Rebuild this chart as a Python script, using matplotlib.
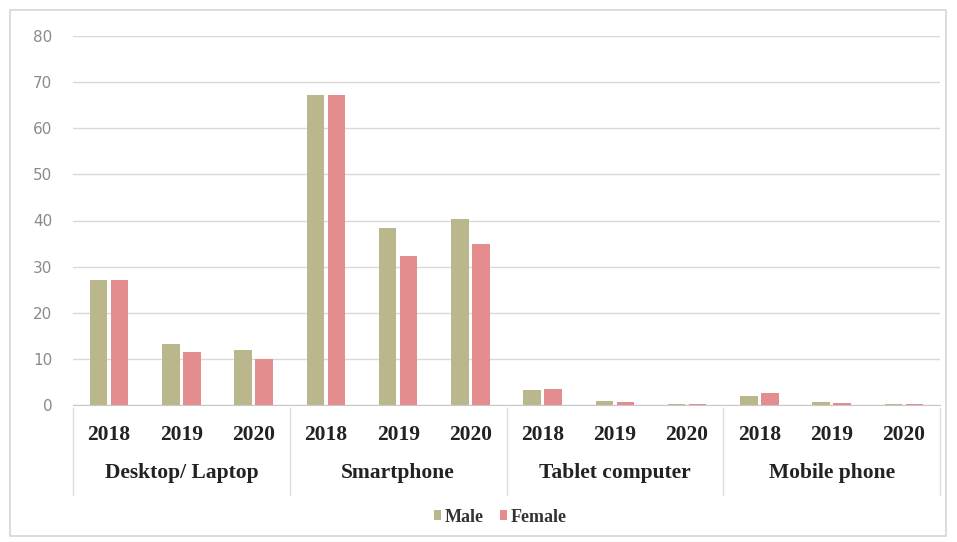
import matplotlib
matplotlib.use("Agg")
import matplotlib.pyplot as plt
from matplotlib.patches import Rectangle
import matplotlib.transforms as mtransforms
import numpy as np

groups = ["Desktop/ Laptop", "Smartphone", "Tablet computer", "Mobile phone"]
years = ["2018", "2019", "2020"]
male = [27, 13.3, 12, 67.3, 38.3, 40.4, 3.2, 0.8, 0.3, 2.0, 0.6, 0.3]
female = [27, 11.5, 9.9, 67.3, 32.4, 35.0, 3.4, 0.6, 0.3, 2.5, 0.5, 0.3]
yticks = [0, 10, 20, 30, 40, 50, 60, 70, 80]

W, H = 957, 542
fig = plt.figure(figsize=(W / 100, H / 100), dpi=100)
ax = fig.add_axes([73 / W, (H - 405) / H, (940 - 73) / W, (405 - 36) / H])

x = np.arange(len(male))
bw = 0.24
ax.bar(x - 0.145, male, bw, color="#bab78d", label="Male", zorder=3)
ax.bar(x + 0.145, female, bw, color="#e38d8f", label="Female", zorder=3)

ax.set_xlim(-0.5, len(male) - 0.5)
ax.set_ylim(0, 80)
ax.set_yticks(yticks)
ax.yaxis.grid(True, color="#d9d9d9", lw=1)
ax.set_axisbelow(True)
for s in ["top", "right", "left"]:
    ax.spines[s].set_visible(False)
ax.spines["bottom"].set_color("#c8c8c8")
ax.tick_params(axis="y", length=0, pad=15, labelsize=11, labelcolor="#8a8a8a")
ax.set_yticklabels([str(v) for v in yticks], family="DejaVu Sans")
ax.set_xticks([])

serif = dict(family="Liberation Serif", weight="bold", color="#222222")
trans = mtransforms.blended_transform_factory(ax.transData, ax.transAxes)
ypx = lambda py: (405 - py) / (405 - 36)
for i in range(len(male)):
    ax.text(i, ypx(435), years[i % 3], ha="center", va="center", fontsize=15.5,
            transform=trans, **serif)
for g, name in enumerate(groups):
    ax.text(g * 3 + 1, ypx(473), name, ha="center", va="center", fontsize=15.5,
            transform=trans, **serif)
for b in [-0.5, 2.5, 5.5, 8.5, 11.5]:
    ax.plot([b, b], [ypx(408), ypx(495)], color="#dcdcdc", lw=1, transform=trans,
            clip_on=False)

leg = fig.legend(loc="center", bbox_to_anchor=(500 / W, (H - 517) / H), ncol=2,
                 frameon=False, handlelength=0.4, handleheight=0.4, handletextpad=0.2,
                 columnspacing=0.9, prop=dict(family="Liberation Serif", weight="bold", size=13))
for t in leg.get_texts():
    t.set_color("#333333")

fig.patches.append(Rectangle((10 / W, 6 / H), (946 - 10) / W, (532 - 6) / H,
                             transform=fig.transFigure, fill=False,
                             edgecolor="#d6d6d6", lw=1.2))
fig.savefig("out.png", dpi=100)
